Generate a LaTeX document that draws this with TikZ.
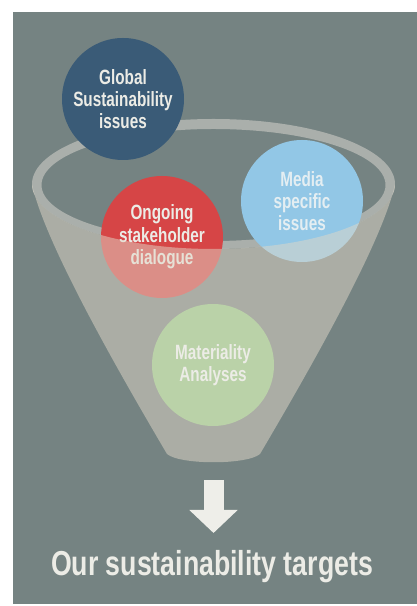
\documentclass[tikz,border=0pt]{standalone}
\usepackage{fontspec}
\setmainfont{Liberation Sans}
\newfontfamily\condfont[FakeStretch=0.74]{Liberation Sans}
\newfontfamily\titlefont[FakeStretch=0.77]{Liberation Sans}
\usetikzlibrary{arrows.meta}

\definecolor{bggray}{RGB}{117,131,130}
\definecolor{ringgray}{RGB}{170,175,171}
\definecolor{bodygray}{RGB}{225,216,200}
\definecolor{globalblue}{RGB}{58,91,119}
\definecolor{ongoingred}{RGB}{214,69,70}
\definecolor{mediablue}{RGB}{146,199,230}
\definecolor{matgreen}{RGB}{186,210,168}
\definecolor{textwhite}{RGB}{236,236,230}
\definecolor{mediatext}{RGB}{228,238,242}
\definecolor{arrowwhite}{RGB}{238,238,233}

\begin{document}
\begin{tikzpicture}[x=0.75pt, y=0.75pt,
    issue/.style={circle, minimum size=91.5pt, inner sep=0pt, align=center,
      font=\condfont\bfseries\fontsize{15.5}{16.75}\selectfont, text=textwhite}]
  \useasboundingbox (0,0) rectangle (417,606);
  % backdrop
  \fill[bggray] (13,1.5) rectangle (417,594);

  % rim of the funnel
  \fill[ringgray, even odd rule] (213.5,422) ellipse[x radius=181.5, y radius=65]
    (213.5,421) ellipse[x radius=172, y radius=56];

  % the issues dropped in
  \node[issue, fill=globalblue] (global) at (123,507) {Global\\Sustainability\\issues};
  \node[issue, fill=ongoingred] (ongoing) at (162,369) {Ongoing\\stakeholder\\dialogue};
  \node[issue, fill=mediablue, text=mediatext] (media) at (302,405) {Media\\specific\\issues};

  % body of the funnel, see-through
  \fill[bodygray, fill opacity=0.5] (32,422) .. controls (45,360) and (130,215) .. (167,152)
    .. controls (180,141) and (247,141) .. (260,152)
    .. controls (297,215) and (382,360) .. (395,422)
    arc[start angle=0, end angle=-180, x radius=181.5, y radius=65] -- cycle;

  \node[issue, fill=matgreen] (materiality) at (213,241) {Materiality\\Analyses};

  % outcome
  \coordinate (arrow top) at (213.5,126);
  \coordinate (arrow tip) at (213.5,73);
  \draw[arrowwhite, line width=15pt, -{Triangle[length=17.25pt, width=35.25pt]}] (arrow top) -- (arrow tip);
  \node[anchor=base, text=textwhite, font=\titlefont\bfseries\fontsize{26}{30}\selectfont]
    (targets) at (212,31) {Our sustainability targets};
\end{tikzpicture}
\end{document}
